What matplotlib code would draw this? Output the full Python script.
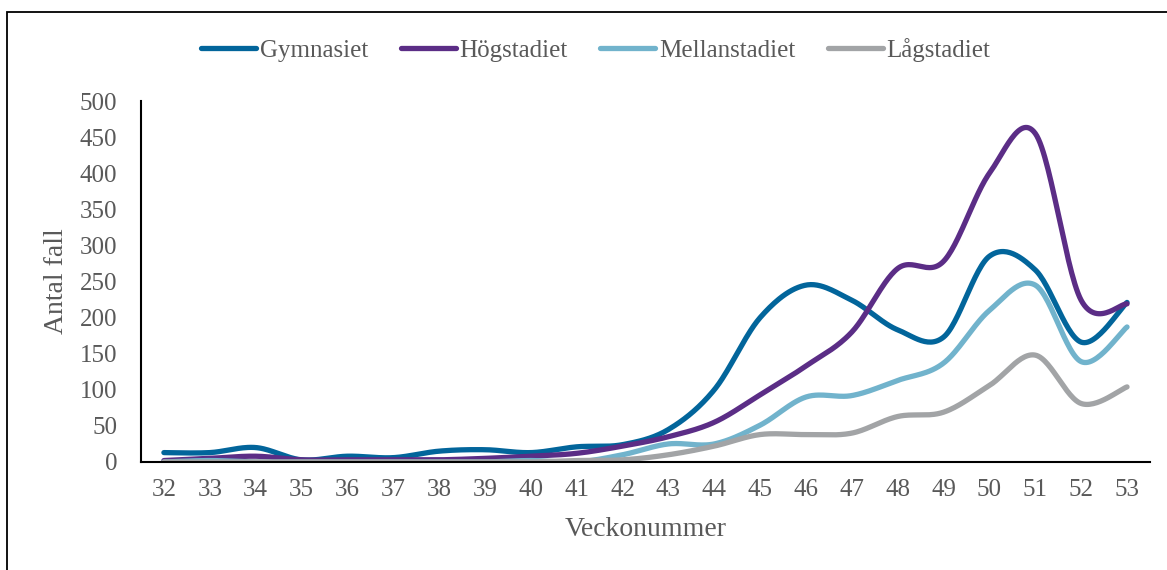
import numpy as np
import matplotlib.pyplot as plt
from matplotlib.patches import Rectangle

weeks = list(range(32, 54))
gymnasiet = [13, 13, 20, 3, 8, 6, 15, 17, 13, 21, 24, 45, 100, 200, 245, 224, 183, 173, 285, 266, 166, 221]
hogstadiet = [2, 5, 8, 3, 3, 3, 3, 5, 8, 12, 22, 35, 55, 93, 133, 180, 268, 278, 400, 455, 224, 219]
mellanstadiet = [0, 2, 0, 0, 0, 0, 0, 0, 2, 0, 10, 25, 25, 51, 90, 92, 113, 137, 210, 245, 139, 187]
lagstadiet = [0, 0, 0, 0, 0, 0, 0, 0, 0, 2, 3, 10, 22, 38, 38, 40, 63, 69, 106, 148, 81, 104]

series = [
    ("Gymnasiet", gymnasiet, "#02659B"),
    ("Högstadiet", hogstadiet, "#5B2D86"),
    ("Mellanstadiet", mellanstadiet, "#71B3CC"),
    ("Lågstadiet", lagstadiet, "#A2A4A6"),
]

TEXT = "#595959"
plt.rcParams['font.family'] = ['Liberation Serif', 'DejaVu Serif']


def smooth(x, y, n=30):
    # Excel-like smoothed line: cubic Bezier between points, tangents from neighbours
    x = np.asarray(x, float)
    y = np.asarray(y, float)
    px, py = [], []
    t = np.linspace(0, 1, n)
    for i in range(len(x) - 1):
        i0 = max(i - 1, 0)
        i3 = min(i + 2, len(x) - 1)
        p0 = np.array([x[i], y[i]])
        p3 = np.array([x[i + 1], y[i + 1]])
        p1 = p0 + (p3 - np.array([x[i0], y[i0]])) / 6
        p2 = p3 - (np.array([x[i3], y[i3]]) - p0) / 6
        b = ((1 - t) ** 3)[:, None] * p0 + (3 * (1 - t) ** 2 * t)[:, None] * p1 \
            + (3 * (1 - t) * t ** 2)[:, None] * p2 + (t ** 3)[:, None] * p3
        px.extend(b[:, 0])
        py.extend(b[:, 1])
    return px, py


fig = plt.figure(figsize=(11.67, 5.70), dpi=100)
ax = fig.add_axes([0.1208, 0.1895, 0.8646, 0.6333])

for name, vals, col in series:
    sx, sy = smooth(weeks, vals)
    ax.plot(sx, sy, color=col, lw=3.8, solid_capstyle='round', label=name)

ax.set_xlim(31.5, 53.5)
ax.set_ylim(0, 500)
ax.set_xticks(weeks)
ax.set_yticks(range(0, 501, 50))
ax.tick_params(length=0, labelsize=18, colors=TEXT)
ax.tick_params(axis='y', pad=17)
ax.tick_params(axis='x', pad=12)
for s in ['top', 'right']:
    ax.spines[s].set_visible(False)
for s in ['left', 'bottom']:
    ax.spines[s].set_color('black')
    ax.spines[s].set_linewidth(1.5)

ax.set_ylabel("Antal fall", fontsize=20, color=TEXT)
ax.yaxis.set_label_coords(-0.084, 0.5)
ax.yaxis.label.set_va('center')
ax.set_xlabel("Veckonummer", fontsize=20, color=TEXT)
ax.xaxis.set_label_coords(0.5, -0.188)
ax.xaxis.label.set_va('center')

leg = ax.legend(loc='center', bbox_to_anchor=(0.451, 1.141), ncol=4, frameon=False,
                fontsize=18, handlelength=2.2, handletextpad=0.15, columnspacing=1.3,
                borderpad=0, borderaxespad=0)
for t in leg.get_texts():
    t.set_color(TEXT)

fig.patches.append(Rectangle((7 / 1167, -0.05), 1.1, 1.05 - 12 / 570,
                             transform=fig.transFigure, fill=False, ec='black', lw=1.3))

fig.savefig("out.png", dpi=100)
